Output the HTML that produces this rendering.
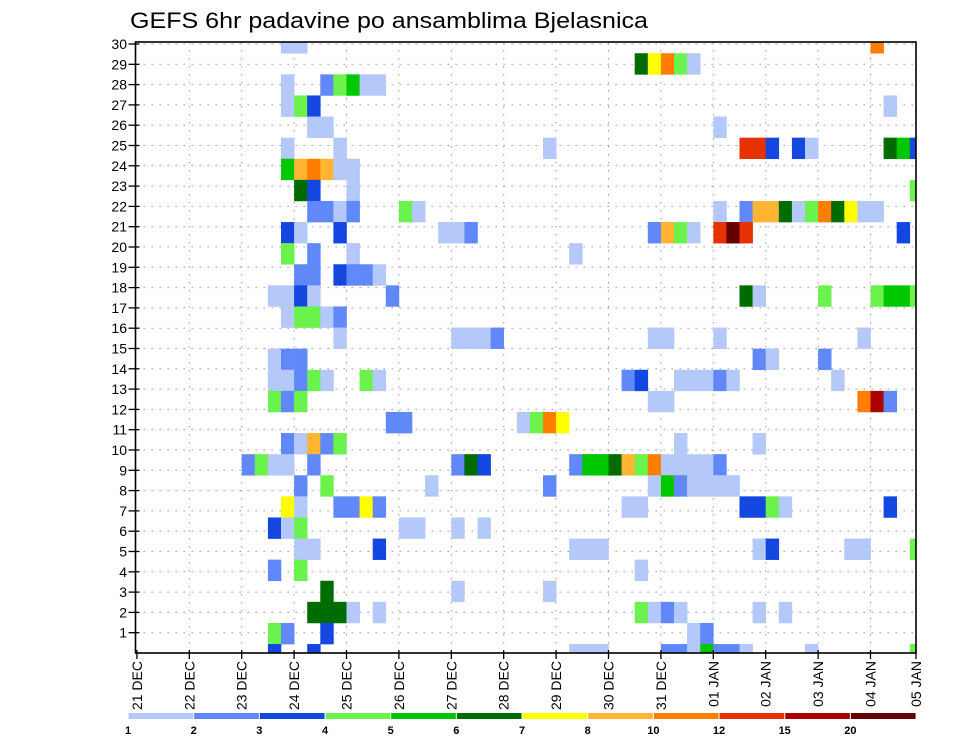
<!DOCTYPE html>
<html><head><meta charset="utf-8"><title>GEFS 6hr padavine</title>
<style>
html,body{margin:0;padding:0;background:#fff;}
svg{display:block;font-family:"Liberation Sans",sans-serif;}
</style></head>
<body>
<svg id="chart" width="960" height="742" viewBox="0 0 960 742" xmlns="http://www.w3.org/2000/svg">
<text x="130" y="28" font-size="22" textLength="518" lengthAdjust="spacingAndGlyphs" fill="#000">GEFS 6hr padavine po ansamblima Bjelasnica</text>
<g id="grid"></g>
<g id="cells"></g>
<g id="axes"></g>
<g id="legend"></g>
</svg>
<script>
// ---- data ----
const dayLabels = ["21 DEC","22 DEC","23 DEC","24 DEC","25 DEC","26 DEC","27 DEC","28 DEC","29 DEC","30 DEC","31 DEC","01 JAN","02 JAN","03 JAN","04 JAN","05 JAN"];
const memberTicks = [1,2,3,4,5,6,7,8,9,10,11,12,13,14,15,16,17,18,19,20,21,22,23,24,25,26,27,28,29,30];
const levels = [1,2,3,4,5,6,7,8,10,12,15,20];
const levelColors = ["#b4c8fa","#6088f8","#1446e0","#6cf24c","#00c800","#006c00","#ffff00","#ffb432","#ff7d00","#e63200","#aa0000","#650000"];
// one line per ensemble member: 6-hourly step index (from 21 DEC 00Z), member, precipitation (mm)
const cellStep = [
11,12,56,
38,39,40,41,42,
11,14,15,16,17,18,
11,12,13,57,
13,14,44,
11,15,31,46,47,48,50,51,57,58,59,
11,12,13,14,15,16,
12,13,16,59,
13,14,15,16,20,21,44,46,47,48,49,50,51,52,53,54,55,56,
11,12,15,23,24,25,39,40,41,42,44,45,46,58,
11,13,16,33,
12,13,15,16,17,18,
10,11,12,13,19,46,47,52,56,57,58,59,
11,12,13,14,15,
15,24,25,26,27,39,40,44,55,
10,11,12,47,48,52,
10,11,12,13,14,17,18,37,38,41,42,43,44,45,53,
10,11,12,39,40,55,56,57,
19,20,29,30,31,32,
11,12,13,14,15,41,47,
8,9,10,11,13,24,25,26,33,34,35,36,37,38,39,40,41,42,43,44,
12,14,22,31,39,40,41,42,43,44,45,
11,12,15,16,17,18,37,38,46,47,48,49,57,
10,11,12,20,21,24,26,
12,13,18,33,34,35,47,48,54,55,59,
10,12,38,
14,24,31,
13,14,15,16,18,38,39,40,41,47,49,
10,11,14,42,43,
10,13,33,34,35,40,41,42,43,44,45,46,51,59
];
const cellMember = [
29,29,29,
28,28,28,28,28,
27,27,27,27,27,27,
26,26,26,26,
25,25,25,
24,24,24,24,24,24,24,24,24,24,24,
23,23,23,23,23,23,
22,22,22,22,
21,21,21,21,21,21,21,21,21,21,21,21,21,21,21,21,21,21,
20,20,20,20,20,20,20,20,20,20,20,20,20,20,
19,19,19,19,
18,18,18,18,18,18,
17,17,17,17,17,17,17,17,17,17,17,17,
16,16,16,16,16,
15,15,15,15,15,15,15,15,15,
14,14,14,14,14,14,
13,13,13,13,13,13,13,13,13,13,13,13,13,13,13,
12,12,12,12,12,12,12,12,
11,11,11,11,11,11,
10,10,10,10,10,10,10,
9,9,9,9,9,9,9,9,9,9,9,9,9,9,9,9,9,9,9,9,
8,8,8,8,8,8,8,8,8,8,8,
7,7,7,7,7,7,7,7,7,7,7,7,7,
6,6,6,6,6,6,6,
5,5,5,5,5,5,5,5,5,5,5,
4,4,4,
3,3,3,
2,2,2,2,2,2,2,2,2,2,2,
1,1,1,1,1,
0,0,0,0,0,0,0,0,0,0,0,0,0,0
];
const cellValue = [
1.5,1.5,11,
6.5,7.5,11,4.5,1.5,
1.5,2.5,4.5,5.5,1.5,1.5,
1.5,4.5,3.5,1.5,
1.5,1.5,1.5,
1.5,1.5,1.5,13,13,3.5,3.5,1.5,6.5,5.5,3.5,
5.5,9,11,9,1.5,1.5,
6.5,3.5,1.5,4.5,
2.5,2.5,1.5,2.5,4.5,1.5,1.5,2.5,9,9,6.5,1.5,4.5,11,6.5,7.5,1.5,1.5,
3.5,1.5,3.5,1.5,1.5,2.5,2.5,9,4.5,1.5,13,22,13,3.5,
4.5,2.5,1.5,1.5,
2.5,2.5,3.5,2.5,2.5,1.5,
1.5,1.5,3.5,1.5,2.5,6.5,1.5,4.5,4.5,5.5,5.5,4.5,
1.5,4.5,4.5,1.5,2.5,
1.5,1.5,1.5,1.5,2.5,1.5,1.5,1.5,1.5,
1.5,2.5,2.5,2.5,1.5,2.5,
1.5,1.5,2.5,4.5,1.5,4.5,1.5,2.5,3.5,1.5,1.5,1.5,2.5,1.5,1.5,
4.5,2.5,4.5,1.5,1.5,11,17,2.5,
2.5,2.5,1.5,4.5,11,7.5,
2.5,1.5,9,2.5,4.5,1.5,1.5,
2.5,4.5,1.5,1.5,2.5,2.5,6.5,3.5,2.5,5.5,5.5,6.5,9,4.5,11,1.5,1.5,1.5,1.5,2.5,
2.5,4.5,1.5,2.5,1.5,5.5,2.5,1.5,1.5,1.5,1.5,
7.5,1.5,2.5,2.5,7.5,2.5,1.5,1.5,3.5,3.5,4.5,1.5,3.5,
3.5,1.5,4.5,1.5,1.5,1.5,1.5,
1.5,1.5,3.5,1.5,1.5,1.5,1.5,3.5,1.5,1.5,4.5,
2.5,4.5,1.5,
6.5,1.5,1.5,
6.5,6.5,6.5,1.5,1.5,4.5,1.5,2.5,1.5,1.5,1.5,
4.5,2.5,3.5,1.5,2.5,
3.5,3.5,1.5,1.5,1.5,2.5,2.5,1.5,5.5,2.5,2.5,1.5,1.5,4.5
];

// ---- layout ----
const NS = "http://www.w3.org/2000/svg";
const L = 135.5, R = 916, T = 42, B = 653;
const cellX0 = 136.9, cellW = 13.1;
const cellYc0 = 654.6, cellH = 21.1;
const dayX = d => (d === 15 ? R : cellX0 + d * 4 * cellW);
const tickY = m => B - m * 20.3;
const stepX = s => cellX0 + s * cellW;
const memberY = m => cellYc0 - m * cellH - cellH / 2;
function colorFor(v){
  let idx = -1;
  for (let i = 0; i < levels.length; i++) if (v >= levels[i]) idx = i;
  return idx < 0 ? null : levelColors[idx];
}
function mk(tag, attrs, parent){
  const e = document.createElementNS(NS, tag);
  for (const k in attrs) e.setAttribute(k, attrs[k]);
  parent.appendChild(e);
  return e;
}
const svg = document.getElementById('chart');
const defs = mk('defs', {}, svg);
const cp = mk('clipPath', {id:'plotclip'}, defs);
mk('rect', {x:L, y:T, width:R-L, height:B-T}, cp);

const grid = document.getElementById('grid');
memberTicks.forEach(m => {
  const ln = mk('line', {x1:L, x2:R, y1:tickY(m), y2:tickY(m), stroke:'#999', 'stroke-width':1, 'stroke-dasharray':'1.5 6.5'}, grid);
  
  
});
for (let d = 1; d < 15; d++) {
  const ln = mk('line', {x1:dayX(d), x2:dayX(d), y1:T, y2:B, stroke:'#999', 'stroke-width':1, 'stroke-dasharray':'1.5 6.5'}, grid);
  
  
}

const cells = document.getElementById('cells');
cells.setAttribute('clip-path', 'url(#plotclip)');
const n = Math.min(cellStep.length, cellMember.length, cellValue.length);
for (let i = 0; i < n; i++) {
  const c = colorFor(cellValue[i]);
  if (!c) continue;
  const r = mk('rect', {x:stepX(cellStep[i]), y:memberY(cellMember[i]), width:cellW+0.3, height:cellH+0.3, fill:c}, cells);
  
  
}

const axes = document.getElementById('axes');
const frame = mk('rect', {x:L, y:T, width:R-L, height:B-T, fill:'none', stroke:'#000', 'stroke-width':1.6}, axes);


memberTicks.forEach(m => {
  mk('line', {x1:L-7, x2:L+4, y1:tickY(m), y2:tickY(m), stroke:'#000', 'stroke-width':1.3}, axes);
  const t = mk('text', {x:127, y:tickY(m)+5, 'font-size':14, 'text-anchor':'end', fill:'#000'}, axes);
  t.textContent = m;
  
  
});
dayLabels.forEach((lab, d) => {
  const x = dayX(d);
  mk('line', {x1:x, x2:x, y1:B-3, y2:B+6, stroke:'#000', 'stroke-width':1.3}, axes);
  const t = mk('text', {x:0, y:0, 'font-size':14, 'text-anchor':'end', fill:'#000', transform:`translate(${x+5},${B+8}) rotate(-90)`}, axes);
  t.textContent = lab;
  
  
});

const legend = document.getElementById('legend');
const lbX0 = 128, lbW = 65.67;
levelColors.forEach((c, i) => {
  const r = mk('rect', {x:lbX0 + i*lbW + 0.5, y:713, width:lbW - 1, height:6, fill:c}, legend);
  
  
});
levels.forEach((v, i) => {
  const t = mk('text', {x:lbX0 + i*lbW, y:734, 'font-size':11, 'font-weight':'bold', 'text-anchor':'middle', fill:'#000'}, legend);
  t.textContent = v;
  
  
});
</script>
</body></html>
